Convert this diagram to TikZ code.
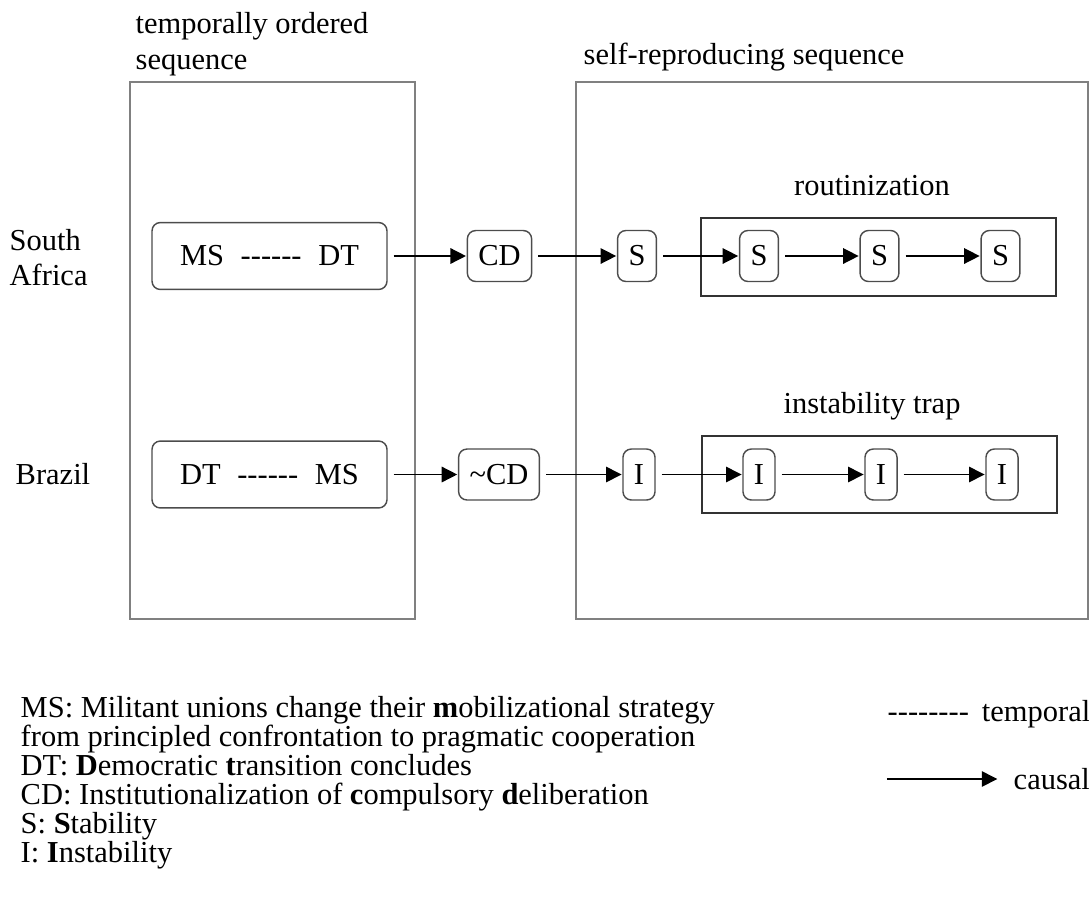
\documentclass[tikz,border=0pt]{standalone}
\usepackage{fontspec}
\setmainfont{Liberation Serif}[Ligatures=TeXOff]
\usetikzlibrary{arrows.meta}

\begin{document}
\begin{tikzpicture}[
            x = 0.42pt, y = -0.42pt, % one unit per pixel, y going down
            > = {Triangle[length=6.5pt,width=6.5pt]}, % arrow head style
            font = \fontsize{12.8}{15}\selectfont,
            semithick % line style
        ]

        \tikzstyle{txt}=[inner sep = 0pt]
        \tikzstyle{wide}=[
            draw = black!70,
            rounded corners = 3.5pt,
            minimum width = 98.7pt,
            minimum height = 28.1pt
        ]
        \tikzstyle{event}=[
            draw = black!70,
            rounded corners = 3.5pt,
            inner xsep = 4.6pt,
            minimum height = 21.4pt
        ]
        \tikzstyle{frame}=[draw = black!50, line width = 0.8pt]
        \tikzstyle{trap}=[draw = black!80, line width = 0.7pt]
        \tikzstyle{causal}=[->, shorten < = 2.5pt, shorten > = 0.3pt]

        \useasboundingbox (0,0) rectangle (1089,899);

        % the two sequences
        \draw[frame] (130,82) rectangle (415,619);
        \draw[frame] (576,82) rectangle (1088,619);
        \draw[trap] (701,218) rectangle (1056,296);
        \draw[trap] (702,436) rectangle (1057,513);

        \node[txt, anchor=base west] (tosa) at (135,33) {temporally ordered};
        \node[txt, anchor=base west] (tosb) at (135,69) {sequence};
        \node[txt, anchor=base west] (srs) at (583,64) {self-reproducing sequence};
        \node[txt, anchor=base] (rout) at (872,195) {routinization};
        \node[txt, anchor=base] (itrap) at (872,413) {instability trap};

        \node[txt, anchor=base west] (southa) at (9,250) {South};
        \node[txt, anchor=base west] (southb) at (9,285) {Africa};
        \node[txt, anchor=base west] (brazil) at (15,484) {Brazil};

        % South Africa
        \node[wide] (msdt) at (269.5,256) {MS\hspace{7pt}------\hspace{7pt}DT};
        \node[event] (cd) at (499.5,256) {CD};
        \node[event] (sa) at (637,256) {S};
        \node[event] (sb) at (759,256) {S};
        \node[event] (sc) at (879.5,256) {S};
        \node[event] (sd) at (1000.5,256) {S};

        \path[causal] (msdt) edge (cd);
        \path[causal] (cd) edge (sa);
        \path[causal] (sa) edge (sb);
        \path[causal] (sb) edge (sc);
        \path[causal] (sc) edge (sd);

        % Brazil
        \node[wide] (dtms) at (269.5,474.5) {DT\hspace{7pt}------\hspace{7pt}MS};
        \node[event] (ncd) at (499,474.5) {\textasciitilde CD};
        \node[event] (ia) at (639,474.5) {I};
        \node[event] (ib) at (759,474.5) {I};
        \node[event] (ic) at (881,474.5) {I};
        \node[event] (id) at (1002,474.5) {I};

        \path[causal] (dtms) edge (ncd);
        \path[causal] (ncd) edge (ia);
        \path[causal] (ia) edge (ib);
        \path[causal] (ib) edge (ic);
        \path[causal] (ic) edge (id);

        % legend
        \foreach \entry [count=\i] in {
            MS: Militant unions change their \textbf{m}obilizational strategy,
            from principled confrontation to pragmatic cooperation,
            DT: \textbf{D}emocratic \textbf{t}ransition concludes,
            CD: Institutionalization of \textbf{c}ompulsory \textbf{d}eliberation,
            S: \textbf{S}tability,
            I: \textbf{I}nstability}
            \node[txt, anchor=base west] (key\i) at (20,688+29*\i) {\entry};

        \node[txt, anchor=base west] (temporal) at (887,721) {--------\hspace{5.5pt}temporal};
        \coordinate (causalstart) at (881,779);
        \node[txt, anchor=west, inner xsep=6.3pt] (causal) at (998,779) {causal};
        \path[causal] (causalstart) edge (causal);

    \end{tikzpicture}
\end{document}
